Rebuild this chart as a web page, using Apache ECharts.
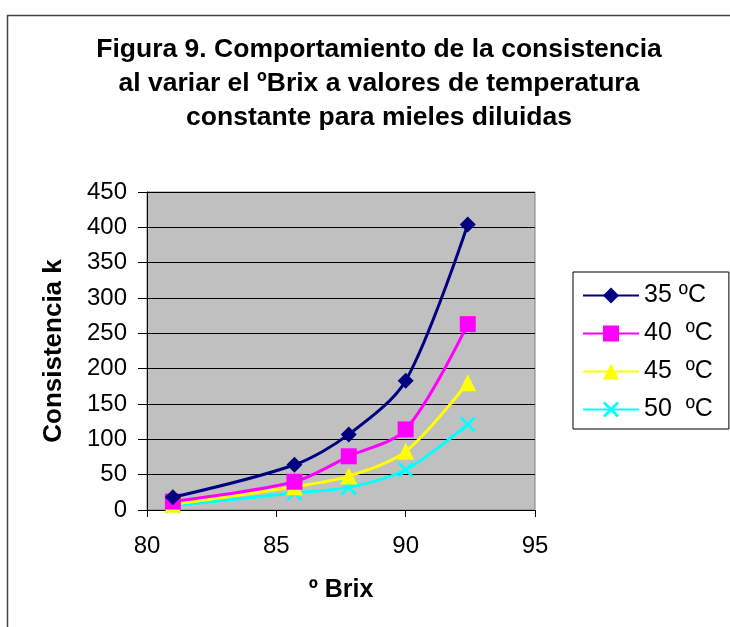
<!DOCTYPE html>
<html>
<head>
<meta charset="utf-8">
<script src="https://cdn.jsdelivr.net/npm/echarts@6/dist/echarts.min.js"></script>
<style>
html,body{margin:0;padding:0;background:#fff;}
#chart{width:730px;height:627px;}
</style>
</head>
<body>
<div id="chart"></div>
<script>
var brix = [81.0, 85.7, 87.8, 90.0, 92.4];
var k35 = [18, 64, 107, 183, 404];
var k40 = [12, 40, 76, 114, 263];
var k45 = [8, 33, 48, 83, 180];
var k50 = [6, 24, 32, 57, 121];
var seriesNames = ['35 ºC', '40  ºC', '45  ºC', '50  ºC'];
var yTicks = [0, 50, 100, 150, 200, 250, 300, 350, 400, 450];
var xTicks = [80, 85, 90, 95];

function pairs(ys) { return brix.map(function (x, i) { return [x, ys[i]]; }); }

var FONT = 'Liberation Sans, Arial, sans-serif';
var crossPath = 'path://M0,1.2 L1.2,0 L5,3.8 L8.8,0 L10,1.2 L6.2,5 L10,8.8 L8.8,10 L5,6.2 L1.2,10 L0,8.8 L3.8,5 Z';

var chart = echarts.init(document.getElementById('chart'), null, {renderer: 'canvas'});
var colors = ['#000080', '#FF00FF', '#FFFF00', '#00FFFF'];
var symbols = ['diamond', 'rect', 'triangle', crossPath];
var sizes = [16, 16, 17, 16];
var data = [k35, k40, k45, k50];

chart.setOption({
  animation: false,
  backgroundColor: '#ffffff',
  graphic: [{
    type: 'rect', left: 5, top: 13,
    shape: {width: 760, height: 660},
    style: {fill: 'none', stroke: '#444', lineWidth: 1.5}, z: -1
  }],
  title: {
    text: 'Figura 9. Comportamiento de la consistencia\nal variar el ºBrix a valores de temperatura\nconstante para mieles diluidas',
    left: 374, top: 28, textAlign: 'center',
    textStyle: {fontFamily: FONT, fontWeight: 'bold', fontSize: 26.5, lineHeight: 34, color: '#000'}
  },
  legend: {
    orient: 'vertical', left: 573, top: 272,
    padding: [11, 16, 7, 9],
    itemWidth: 56, itemHeight: 20, itemGap: 13,
    borderColor: '#000', borderWidth: 1,
    backgroundColor: '#fff',
    textStyle: {fontFamily: FONT, fontSize: 25, color: '#000'},
    data: seriesNames
  },
  grid: {
    left: 147, top: 192, right: 195, bottom: 117,
    show: true, backgroundColor: '#C0C0C0', borderColor: '#808080', borderWidth: 1
  },
  xAxis: {
    type: 'value', min: xTicks[0], max: xTicks[xTicks.length - 1], interval: 5,
    name: 'º Brix', nameLocation: 'middle', nameGap: 68,
    nameTextStyle: {fontFamily: FONT, fontWeight: 'bold', fontSize: 25, color: '#000'},
    axisLine: {show: true, lineStyle: {color: '#000', width: 1}},
    axisTick: {show: true, length: 7, lineStyle: {color: '#000'}},
    axisLabel: {fontFamily: FONT, fontSize: 24, color: '#000', margin: 24},
    splitLine: {show: false}
  },
  yAxis: {
    type: 'value', min: yTicks[0], max: yTicks[yTicks.length - 1], interval: 50,
    name: 'Consistencia k', nameLocation: 'middle', nameGap: 80,
    nameTextStyle: {fontFamily: FONT, fontWeight: 'bold', fontSize: 26, color: '#000'},
    axisLine: {show: true, lineStyle: {color: '#000', width: 1}},
    axisTick: {show: true, length: 9, lineStyle: {color: '#000'}},
    axisLabel: {fontFamily: FONT, fontSize: 24, color: '#000', margin: 20},
    splitLine: {show: true, lineStyle: {color: '#000', width: 1}}
  },
  series: data.map(function (d, i) {
    return {
      name: seriesNames[i], type: 'line', data: pairs(d),
      smooth: 0.3,
      symbol: symbols[i], symbolSize: sizes[i],
      lineStyle: {color: colors[i], width: 3},
      itemStyle: {color: colors[i]},
      z: 10 - i
    };
  })
});
</script>
</body>
</html>
